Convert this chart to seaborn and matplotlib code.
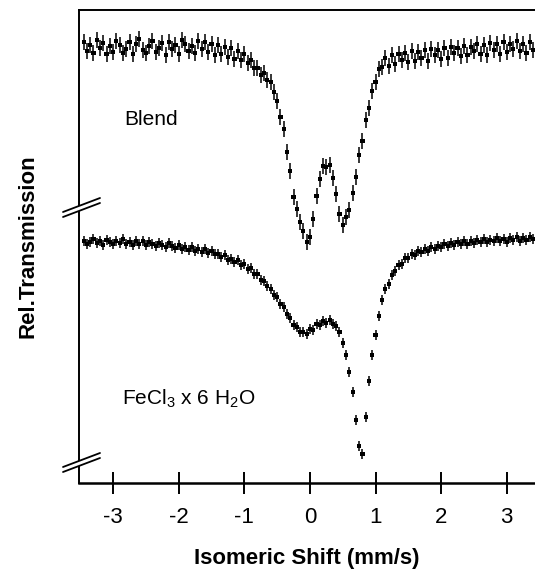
import numpy as np
import pandas as pd
import matplotlib
matplotlib.use("Agg")
import matplotlib.pyplot as plt
import seaborn as sns

# ---------------- data ----------------
# velocity channels, mm/s (evenly spaced)
velocity = np.round(np.linspace(-3.45, 3.40, 138), 2)

# relative transmission, % (Blend sample)
blend_T = [
    100.5, 99.6, 100.2, 99.4, 100.7, 99.9, 100.4, 99.3, 100.1, 99.5,
    100.6, 100.2, 99.4, 99.8, 100.5, 99.3, 100.3, 100.8, 99.7, 99.4,
    100.1, 100.6, 99.5, 99.9, 100.4, 99.2, 100.5, 99.8, 100.2, 99.3,
    100.7, 100.3, 99.6, 100.1, 99.4, 100.6, 99.8, 100.5, 99.5, 100.3,
    99.2, 100.2, 99.3, 100.0, 99.0, 99.9, 98.8, 99.6, 98.7, 99.3,
    98.4, 98.7, 97.9, 97.9, 97.2, 97.4, 96.7, 96.5, 95.5, 94.6,
    93.0, 91.8, 89.5, 87.6, 85.0, 83.8, 82.5, 81.6, 80.5, 81.0,
    82.8, 85.1, 86.8, 88.1, 88.0, 88.2, 86.9, 85.3, 83.3, 82.2,
    83.0, 83.7, 85.4, 87.0, 89.2, 90.6, 92.7, 93.9, 95.6, 96.5,
    97.8, 98.0, 98.9, 98.1, 99.2, 98.3, 99.3, 98.7, 99.4, 98.5,
    99.6, 98.6, 99.5, 98.9, 99.7, 98.6, 99.8, 99.2, 99.7, 98.8,
    99.9, 98.9, 100.0, 99.4, 99.9, 99.1, 100.1, 99.2, 100.0, 99.6,
    100.3, 99.3, 100.2, 99.2, 100.4, 99.7, 100.3, 99.3, 100.5, 99.5,
    100.3, 99.8, 100.6, 99.6, 100.3, 99.4, 100.5, 99.7,
]

# relative transmission, % (FeCl3 x 6 H2O reference)
fecl3_T = [
    99.9, 99.6, 99.8, 100.1, 99.7, 99.9, 99.5, 100.0, 99.8, 99.6,
    99.9, 99.7, 100.1, 99.6, 99.8, 99.5, 99.9, 99.6, 99.9, 99.5,
    99.8, 99.6, 99.4, 99.7, 99.5, 99.3, 99.7, 99.4, 99.2, 99.5,
    99.1, 99.3, 99.0, 99.3, 98.9, 99.1, 98.8, 99.1, 98.7, 98.9,
    98.6, 98.6, 98.3, 98.5, 98.0, 98.1, 97.8, 98.0, 97.5, 97.6,
    97.1, 97.2, 96.6, 96.6, 96.0, 95.9, 95.4, 95.1, 94.5, 94.3,
    93.6, 93.3, 92.6, 92.2, 91.5, 91.3, 90.8, 90.8, 90.6, 91.1,
    91.0, 91.6, 91.5, 91.9, 91.7, 92.0, 91.6, 91.4, 90.8, 89.7,
    88.5, 86.8, 84.8, 82.0, 79.4, 78.6, 82.3, 85.9, 88.5, 90.5,
    92.4, 94.0, 95.1, 95.6, 96.5, 96.9, 97.5, 97.6, 98.2, 98.2,
    98.6, 98.5, 98.9, 98.8, 99.1, 98.9, 99.3, 99.1, 99.4, 99.3,
    99.6, 99.4, 99.7, 99.5, 99.8, 99.6, 99.9, 99.6, 99.9, 99.7,
    100.0, 99.8, 100.1, 99.8, 100.0, 99.9, 100.2, 99.9, 100.1, 99.8,
    100.2, 100.0, 100.3, 99.9, 100.2, 100.0, 100.3, 100.1,
]

blend_err = 0.8
fecl3_err = 0.5
labels = ["Blend", "FeCl$_3$ x 6 H$_2$O"]
x_ticks = [-3, -2, -1, 0, 1, 2, 3]

# ---------------- style ----------------
sns.set_style("ticks")
plt.rcParams["font.family"] = ["Liberation Sans", "DejaVu Sans"]
plt.rcParams["mathtext.fontset"] = "custom"
plt.rcParams["mathtext.rm"] = "Liberation Sans"
plt.rcParams["mathtext.it"] = "Liberation Sans:italic"
plt.rcParams["mathtext.bf"] = "Liberation Sans:bold"
for k in ["text.color", "axes.labelcolor", "xtick.color", "ytick.color",
          "axes.edgecolor"]:
    plt.rcParams[k] = "black"

W, H = 535, 575
fig = plt.figure(figsize=(W / 100, H / 100), dpi=100)
ax_l, ax_r, ax_b, ax_t = 79, 535, 483, 10
ax = fig.add_axes([ax_l / W, 1 - ax_b / H, (ax_r - ax_l) / W, (ax_b - ax_t) / H])

offset_blend = -56.4
offset_fecl3 = -75.7

df = pd.concat([
    pd.DataFrame({"v": velocity, "T": np.array(blend_T) + offset_blend,
                  "err": blend_err, "sample": labels[0]}),
    pd.DataFrame({"v": velocity, "T": np.array(fecl3_T) + offset_fecl3,
                  "err": fecl3_err, "sample": labels[1]}),
])

for name, sub in df.groupby("sample"):
    ax.errorbar(sub["v"], sub["T"], yerr=sub["err"], fmt="none",
                ecolor="black", elinewidth=1.1, capsize=0, zorder=2)
sns.scatterplot(data=df, x="v", y="T", hue="sample",
                palette=["black", "black"], marker="s", s=9,
                linewidth=0, legend=False, ax=ax, zorder=3)

ax.set_xlim(-3.52, 3.43)
ax.set_ylim(0, 47.3)
ax.set_xticks(x_ticks)
ax.set_xticklabels([str(t) for t in x_ticks], fontsize=16)
ax.set_yticks([])
ax.tick_params(axis="x", direction="inout", length=16, width=1.4, pad=9,
               colors="black")

for s in ["left", "top", "bottom"]:
    ax.spines[s].set_linewidth(1.4)
    ax.spines[s].set_color("black")
ax.spines["bottom"].set_linewidth(1.8)
ax.spines["right"].set_visible(False)

ax.set_xlabel("Isomeric Shift (mm/s)", fontsize=16, fontweight="bold",
              labelpad=15, color="black")
ax.set_ylabel("Rel.Transmission", fontsize=16, fontweight="bold",
              labelpad=29, color="black")

ax.text(-2.83, 35.8, labels[0], fontsize=15, ha="left", va="baseline", color="black")
ax.text(-2.86, 7.8, labels[1], fontsize=15, ha="left", va="baseline", color="black")

# axis break marks ("//") on the left spine
def px2ax(px, py):
    return (px - ax_l) / (ax_r - ax_l), (ax_b - py) / (ax_b - ax_t)

for cy in (208, 463):
    a1 = px2ax(63, cy + 4); a2 = px2ax(100, cy - 10)
    b1 = px2ax(63, cy + 9); b2 = px2ax(100, cy - 5)
    poly = plt.Polygon([a1, a2, b2, b1], closed=True, facecolor="white",
                       edgecolor="none", transform=ax.transAxes,
                       clip_on=False, zorder=5)
    ax.add_patch(poly)
    for p, q in ((a1, a2), (b1, b2)):
        ax.plot([p[0], q[0]], [p[1], q[1]], color="black", lw=1.3,
                transform=ax.transAxes, clip_on=False, zorder=6)

fig.savefig("out.png", dpi=100)
